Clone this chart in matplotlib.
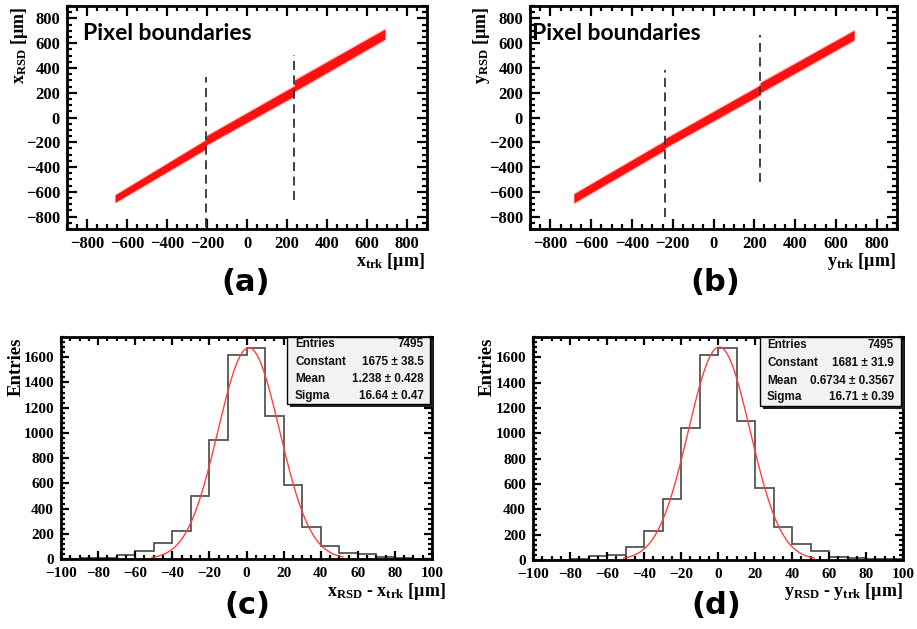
import numpy as np
import matplotlib
matplotlib.use("Agg")
import matplotlib.pyplot as plt
from matplotlib.ticker import MultipleLocator
from matplotlib.patches import Rectangle

plt.rcParams["mathtext.fontset"] = "custom"
plt.rcParams["mathtext.rm"] = "Liberation Serif:bold"
plt.rcParams["mathtext.bf"] = "Liberation Serif:bold"
plt.rcParams["mathtext.it"] = "Liberation Serif:bold"

# ---------------- data ----------------
# (a) reconstructed x vs tracker x: centre line of the point band and its half-width
band_a_x = [-660, -205, -205, 236, 236, 690]
band_a_y = [-655, -216, -186, 214, 256, 674]
band_a_hw = [30, 36, 36, 40, 44, 40]
bounds_a_x = [-205, 236]
bounds_a_ymin = [-884, -668]
bounds_a_ymax = [330, 504]

# (b) reconstructed y vs tracker y
band_b_x = [-685, -238, -238, 228, 228, 690]
band_b_y = [-652, -224, -208, 222, 240, 666]
band_b_hw = [36, 36, 36, 38, 40, 38]
bounds_b_x = [-238, 228]
bounds_b_ymin = [-805, -522]
bounds_b_ymax = [384, 668]

# (c), (d) residual histograms, 10 um bins from -100 to 100
bin_edges = list(range(-100, 101, 10))
counts_c = [2, 5, 9, 34, 62, 124, 224, 497, 940, 1616, 1671, 1134, 587, 255, 100, 47, 42, 13, 5, 3]
counts_d = [1, 3, 6, 31, 39, 105, 226, 480, 1045, 1617, 1672, 1100, 570, 257, 126, 73, 21, 16, 10, 5]

# Gaussian fit results
entries_c, const_c, const_c_err, mean_c, mean_c_err, sigma_c, sigma_c_err = 7495, 1675, 38.5, 1.238, 0.428, 16.64, 0.47
entries_d, const_d, const_d_err, mean_d, mean_d_err, sigma_d, sigma_d_err = 7495, 1681, 31.9, 0.6734, 0.3567, 16.71, 0.39
fit_range = (-51, 52)

# ---------------- figure ----------------
W, H = 917, 629
fig = plt.figure(figsize=(W / 100, H / 100), dpi=100)
fig.patch.set_facecolor("white")

SERIF = "Liberation Serif"


def px_axes(l, t, r, b):
    return fig.add_axes([l / W, 1 - b / H, (r - l) / W, (b - t) / H])


def ftext(x, y, s, **kw):
    return fig.text(x / W, 1 - y / H, s, **kw)


def root_style(ax, major_x, minor_x, major_y, minor_y, ticklen, labelsize, xpad=5):
    for sp in ax.spines.values():
        sp.set_linewidth(2.0)
    ax.xaxis.set_major_locator(MultipleLocator(major_x))
    ax.xaxis.set_minor_locator(MultipleLocator(minor_x))
    ax.yaxis.set_major_locator(MultipleLocator(major_y))
    ax.yaxis.set_minor_locator(MultipleLocator(minor_y))
    ax.tick_params(which="both", direction="in", top=True, right=True, width=1.6)
    ax.tick_params(which="major", length=ticklen)
    ax.tick_params(which="minor", length=ticklen * 0.5)
    ax.tick_params(which="major", labelsize=labelsize, pad=5)
    ax.tick_params(axis="x", which="major", pad=xpad)
    for lab in ax.get_xticklabels() + ax.get_yticklabels():
        lab.set_fontfamily(SERIF)
        lab.set_fontweight("bold")


def band(ax, xs, ys, hws):
    xs = np.asarray(xs, float)
    ys = np.asarray(ys, float)
    hws = np.asarray(hws, float)
    ax.fill_between(xs, ys - hws * 1.3, ys + hws * 1.3, color="#ff3030", alpha=0.3, lw=0)
    ax.fill_between(xs, ys - hws, ys + hws, color="#ff1010", lw=0)


def scatter_panel(box, bx, by, bhw, vx, vymin, vymax):
    ax = px_axes(*box)
    ax.set_xlim(-900, 900)
    ax.set_ylim(-900, 900)
    band(ax, bx, by, bhw)
    for x, y0, y1 in zip(vx, vymin, vymax):
        ax.plot([x, x], [y0, y1], color="#333333", lw=1.3, dashes=(5, 3))
    root_style(ax, 200, 50, 200, 50, 7, 12)
    return ax


def hist_panel(box, counts, const, mean, sigma):
    ax = px_axes(*box)
    ax.set_xlim(-100, 100)
    ax.set_ylim(0, 1760)
    ax.stairs(counts, bin_edges, color="#555555", lw=1.3)
    xf = np.linspace(fit_range[0], fit_range[1], 400)
    ax.plot(xf, const * np.exp(-0.5 * ((xf - mean) / sigma) ** 2), color="#ff4040", lw=1.0)
    root_style(ax, 20, 5, 200, 40, 6, 11, xpad=6)
    return ax


def stat_box(l, t, r, b, rows, xl, xr, ys):
    fig.patches.append(Rectangle((l / W + 3 / W, 1 - b / H - 3 / H), (r - l) / W, (b - t) / H,
                                 transform=fig.transFigure, facecolor="#222222",
                                 edgecolor="none", zorder=5))
    fig.patches.append(Rectangle((l / W, 1 - b / H), (r - l) / W, (b - t) / H,
                                 transform=fig.transFigure, facecolor="#f2f2f2",
                                 edgecolor="black", lw=1.0, zorder=6))
    for (name, val), y in zip(rows, ys):
        ftext(xl, y, name, ha="left", va="center", fontsize=8.5, fontweight="bold",
              family="Liberation Sans", color="#111111", zorder=7)
        ftext(xr, y, val, ha="right", va="center", fontsize=8.5, fontweight="bold",
              family="Liberation Sans", color="#111111", zorder=7)


TITLE_FONT = dict(fontsize=16.5, fontweight="bold", family="Lato")

# (a)
scatter_panel((67, 6, 427, 229), band_a_x, band_a_y, band_a_hw, bounds_a_x, bounds_a_ymin, bounds_a_ymax)
ftext(83, 33, "Pixel boundaries", ha="left", va="center", **TITLE_FONT)
ftext(20, 7, r"$\mathbf{x_{RSD}}$ [µm]", rotation=90, ha="center", va="top", fontsize=13,
      family=SERIF, fontweight="bold")
ftext(425, 262, r"$\mathbf{x_{trk}}$ [µm]", ha="right", va="center", fontsize=13,
      family=SERIF, fontweight="bold")
ftext(246, 282, "(a)", ha="center", va="center", fontsize=22, fontweight="bold", family="DejaVu Sans")

# (b)
scatter_panel((530, 6, 897, 229), band_b_x, band_b_y, band_b_hw, bounds_b_x, bounds_b_ymin, bounds_b_ymax)
ftext(532, 33, "Pixel boundaries", ha="left", va="center", **TITLE_FONT)
ftext(482, 7, r"$\mathbf{y_{RSD}}$ [µm]", rotation=90, ha="center", va="top", fontsize=13,
      family=SERIF, fontweight="bold")
ftext(896, 262, r"$\mathbf{y_{trk}}$ [µm]", ha="right", va="center", fontsize=13,
      family=SERIF, fontweight="bold")
ftext(715, 282, "(b)", ha="center", va="center", fontsize=22, fontweight="bold", family="DejaVu Sans")

# (c)
hist_panel((61, 337, 432, 559), counts_c, const_c, mean_c, sigma_c)
ftext(16, 338, "Entries", rotation=90, ha="center", va="top", fontsize=13.5, family=SERIF, fontweight="bold")
ftext(446, 592, r"$\mathbf{x_{RSD}}$ - $\mathbf{x_{trk}}$ [µm]", ha="right", va="center", fontsize=13,
      family=SERIF, fontweight="bold")
ftext(247, 605, "(c)", ha="center", va="center", fontsize=22, fontweight="bold", family="DejaVu Sans")
stat_box(287, 337, 430, 404,
         [("Entries", f"{entries_c}"),
          ("Constant", f"{const_c:g} ± {const_c_err:g}"),
          ("Mean", f"{mean_c:g} ± {mean_c_err:g}"),
          ("Sigma", f"{sigma_c:g} ± {sigma_c_err:g}")],
         295, 424, [344, 362, 379, 396])

# (d)
hist_panel((533, 337, 903, 560), counts_d, const_d, mean_d, sigma_d)
ftext(487, 338, "Entries", rotation=90, ha="center", va="top", fontsize=13.5, family=SERIF, fontweight="bold")
ftext(903, 592, r"$\mathbf{y_{RSD}}$ - $\mathbf{y_{trk}}$ [µm]", ha="right", va="center", fontsize=13,
      family=SERIF, fontweight="bold")
ftext(716, 605, "(d)", ha="center", va="center", fontsize=22, fontweight="bold", family="DejaVu Sans")
stat_box(760, 337, 901, 406,
         [("Entries", f"{entries_d}"),
          ("Constant", f"{const_d:g} ± {const_d_err:g}"),
          ("Mean", f"{mean_d:g} ± {mean_d_err:g}"),
          ("Sigma", f"{sigma_d:g} ± {sigma_d_err:g}")],
         767, 894, [345, 363, 381, 397])

fig.savefig("out.png", dpi=100)
